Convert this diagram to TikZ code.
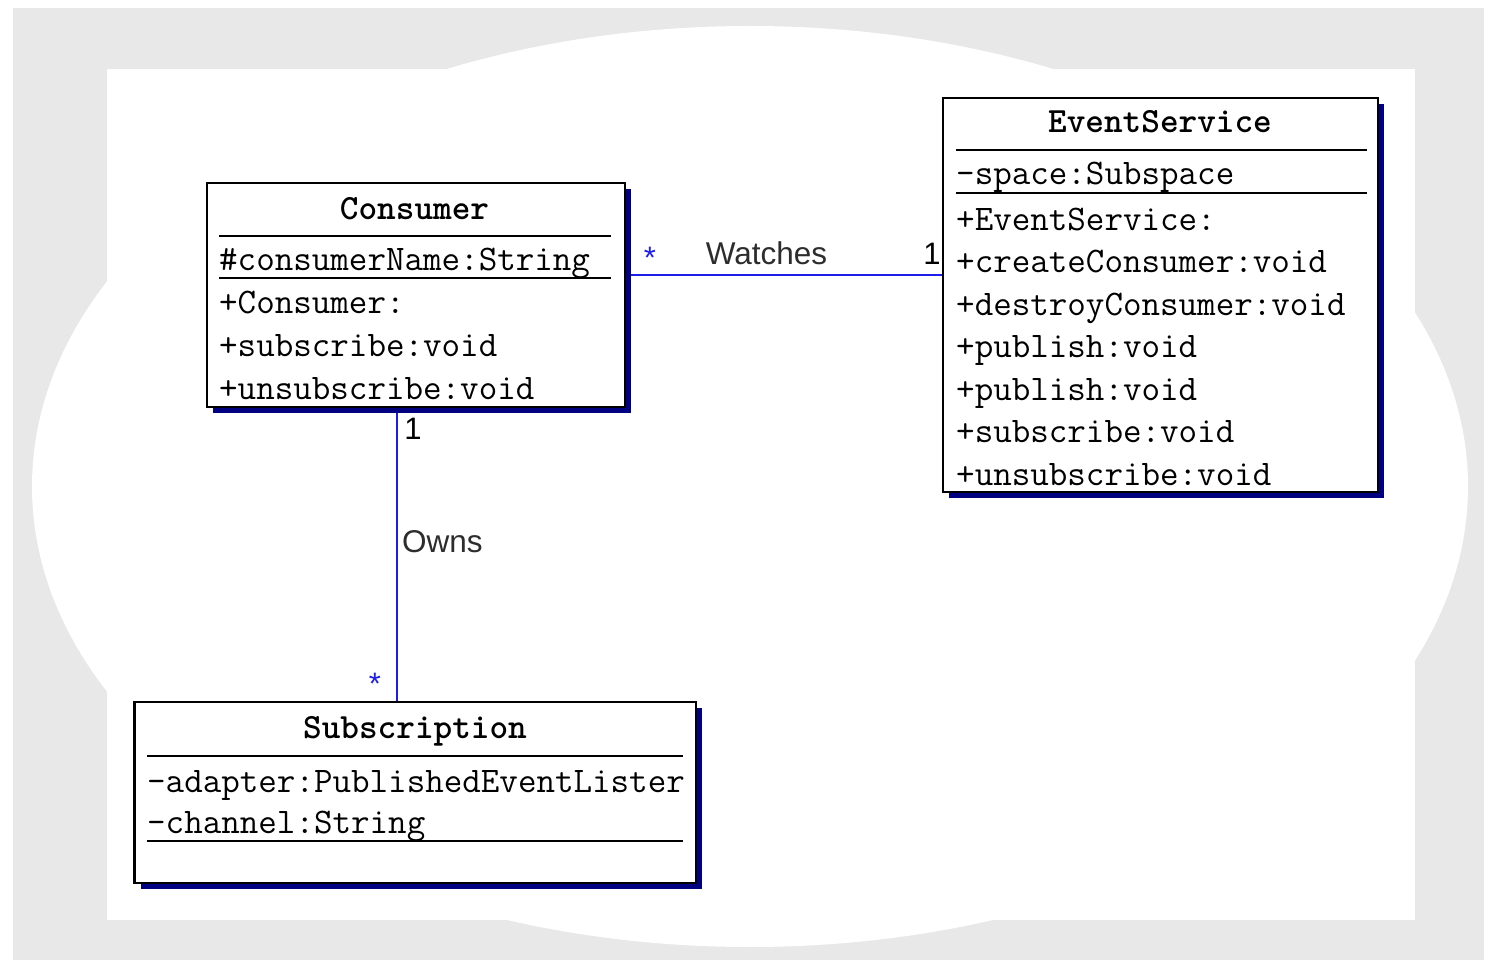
\documentclass[tikz,border=0pt]{standalone}
\usepackage{fontspec}
\usetikzlibrary{shadows,calc}
\newfontfamily\labelfont{Liberation Sans}
\definecolor{paper}{RGB}{232,232,232}
\definecolor{shade}{RGB}{0,0,128}
\definecolor{wire}{RGB}{30,30,235}
\definecolor{ink}{RGB}{45,45,45}
\pgfdeclarelayer{paperlayer}
\pgfdeclarelayer{wirelayer}
\pgfsetlayers{paperlayer,wirelayer,main}
\tikzset{
  classbox/.style={draw=black, line width=2.5pt, fill=white, inner sep=0pt,
    drop shadow={shadow xshift=6pt, shadow yshift=-6pt, fill=shade, opacity=1}},
  member/.style={anchor=base west, inner sep=0pt,
    font=\ttfamily\fontsize{36}{40}\selectfont},
  classname/.style={anchor=base, inner sep=0pt,
    font=\ttfamily\bfseries\fontsize{35.5}{40}\selectfont},
  compartment/.style={line width=2.2pt, black},
  assoc/.style={wire, line width=2.4pt},
  rolename/.style={anchor=base, inner sep=0pt, text=ink,
    font=\labelfont\fontsize{31.5}{34}\selectfont},
  mult/.style={anchor=base, inner sep=0pt, text=black,
    font=\labelfont\fontsize{31}{34}\selectfont},
  many/.style={anchor=base, inner sep=0pt, text=wire,
    font=\labelfont\fontsize{31}{34}\selectfont},
}
\begin{document}
\begin{tikzpicture}[x=1pt,y=-1pt]
\useasboundingbox (0,0) rectangle (1491,960);

% backdrop: grey sheet with a white oval panel
\begin{pgfonlayer}{paperlayer}
  \fill[white] (0,0) rectangle (1491,960);
  \fill[paper] (13,8) rectangle (1484,960);
  \fill[white] (107,69) rectangle (1415,920);
  \fill[white] (750,486.5) ellipse [x radius=718, y radius=460.5];
\end{pgfonlayer}

% class Consumer
\node[classbox, minimum width=418pt, minimum height=224pt] (consumer) at (416,295) {};
\node[classname] (consumerTitle) at (414.5,219) {Consumer};
\draw[compartment] (219,236) -- (611,236);
\node[member] (consumerName) at (219,270) {\#consumerName:String};
\draw[compartment] (219,278) -- (611,278);
\node[member] (consumerCtor) at (219,313) {+Consumer:};
\node[member] (consumerSub) at (219,356) {+subscribe:void};
\node[member] (consumerUnsub) at (219,399) {+unsubscribe:void};

% class EventService
\node[classbox, minimum width=435pt, minimum height=394pt] (eventservice) at (1160.5,295) {};
\node[classname] (esTitle) at (1160,133) {EventService};
\draw[compartment] (956,150) -- (1367,150);
\node[member] (esSpace) at (956,185) {-space:Subspace};
\draw[compartment] (956,193) -- (1367,193);
\node[member] (esCtor) at (956,230) {+EventService:};
\node[member] (esCreate) at (956,272.5) {+createConsumer:void};
\node[member] (esDestroy) at (956,315) {+destroyConsumer:void};
\node[member] (esPub1) at (956,357.5) {+publish:void};
\node[member] (esPub2) at (956,400) {+publish:void};
\node[member] (esSub) at (956,442.5) {+subscribe:void};
\node[member] (esUnsub) at (956,485) {+unsubscribe:void};

% class Subscription
\node[classbox, minimum width=561.5pt, minimum height=181pt] (subscription) at (415.25,792.5) {};
\node[classname] (subTitle) at (415,738) {Subscription};
\draw[compartment] (147,756) -- (683,756);
\node[member] (subAdapter) at (147,792) {-adapter:PublishedEventLister};
\node[member] (subChannel) at (147,833) {-channel:String};
\draw[compartment] (147,841) -- (683,841);

% associations
\coordinate (watchLevel) at (0,275);
\coordinate (ownsLane) at (397,0);
\begin{pgfonlayer}{wirelayer}
  \draw[assoc] (consumer.east |- watchLevel) -- (eventservice.west |- watchLevel);
  \draw[assoc] (consumer.south -| ownsLane) -- (subscription.north -| ownsLane);
\end{pgfonlayer}

\node[many] (watchMany) at (650,268) {*};
\node[rolename] (watchName) at (766.5,265) {Watches};
\node[mult] (watchOne) at (932,265) {1};

\node[mult] (ownsOne) at (413,439) {1};
\node[rolename, anchor=base west] (ownsName) at (402,552) {Owns};
\node[many] (ownsMany) at (375,694) {*};
\end{tikzpicture}
\end{document}
